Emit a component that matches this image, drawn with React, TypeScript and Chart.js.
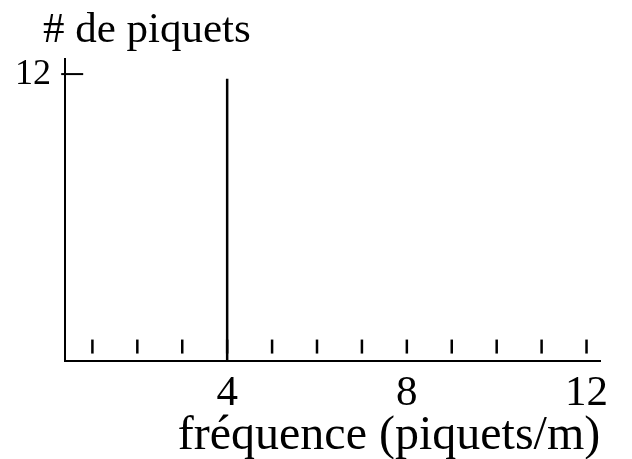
import React, { useEffect, useRef } from "react";
import { Chart, registerables } from "chart.js";

Chart.register(...registerables);

// Histogram-style plot of stake counts against frequency
const xTickValues = [4, 8, 12];
const yTickValues = [12];
const minorTickFrequencies = [1, 2, 3, 4, 5, 6, 7, 8, 9, 10, 11, 12];
const frequencies = [4];
const stakeCounts = [11.8];

const yTitle = "# de piquets";
const xTitle = "fréquence (piquets/m)";

const FONT = '"Liberation Serif", "Times New Roman", serif';

const titlesPlugin = {
  id: "axisTitles",
  afterDraw(chart: any) {
    const { ctx, chartArea } = chart;
    ctx.save();
    ctx.fillStyle = "#000";
    ctx.textBaseline = "alphabetic";
    ctx.font = `43px ${FONT}`;
    ctx.textAlign = "left";
    ctx.fillText(yTitle, chartArea.left - 22, 42);
    ctx.font = `48px ${FONT}`;
    ctx.textAlign = "center";
    ctx.fillText(xTitle, 389, 449);
    ctx.restore();
  },
};

export default function App() {
  const canvasRef = useRef<HTMLCanvasElement | null>(null);

  useEffect(() => {
    if (!canvasRef.current) return;

    const spikeData = frequencies.flatMap((f, i) => [
      { x: f, y: 0 },
      { x: f, y: stakeCounts[i] },
    ]);
    const minorTicks = minorTickFrequencies.map((f) => ({ x: f, y: 0.62 }));
    const yTickMark = yTickValues.map((v) => ({ x: 0.55, y: v }));

    const chart = new Chart(canvasRef.current, {
      type: "scatter",
      data: {
        datasets: [
          {
            data: spikeData,
            showLine: true,
            borderColor: "#000",
            borderWidth: 2.5,
            pointRadius: 0,
            clip: false as any,
          },
          {
            data: minorTicks,
            showLine: false,
            pointStyle: "line",
            rotation: 90,
            pointRadius: 7,
            borderColor: "#000",
            borderWidth: 2.5,
            clip: false as any,
          },
          {
            data: yTickMark,
            showLine: false,
            pointStyle: "line",
            pointRadius: 11,
            borderColor: "#000",
            borderWidth: 2,
            clip: false as any,
          },
        ],
      },
      options: {
        responsive: false,
        animation: false,
        layout: { padding: { left: 1, top: 59, right: 32, bottom: 32 } },
        plugins: {
          legend: { display: false },
          tooltip: { enabled: false },
        },
        scales: {
          x: {
            type: "linear",
            min: 0.39,
            max: 12.3,
            afterBuildTicks: (scale: any) => {
              scale.ticks = xTickValues.map((v) => ({ value: v }));
            },
            ticks: {
              color: "#000",
              font: { family: FONT, size: 43 },
              padding: 7,
              maxRotation: 0,
              autoSkip: false,
            },
            grid: { display: true, drawOnChartArea: false, drawTicks: false },
            border: { display: true, color: "#000", width: 2 },
          },
          y: {
            type: "linear",
            min: 0,
            max: 12.63,
            afterBuildTicks: (scale: any) => {
              scale.ticks = yTickValues.map((v) => ({ value: v }));
            },
            ticks: {
              color: "#000",
              font: { family: FONT, size: 36 },
              padding: 14,
              autoSkip: false,
            },
            grid: { display: true, drawOnChartArea: false, drawTicks: false },
            border: { display: true, color: "#000", width: 2 },
          },
        },
      },
      plugins: [titlesPlugin],
    });

    return () => chart.destroy();
  }, []);

  return (
    <div style={{ position: "absolute", left: 0, top: 0, width: 632, height: 459, background: "#fff" }}>
      <canvas ref={canvasRef} width={632} height={459} />
    </div>
  );
}
